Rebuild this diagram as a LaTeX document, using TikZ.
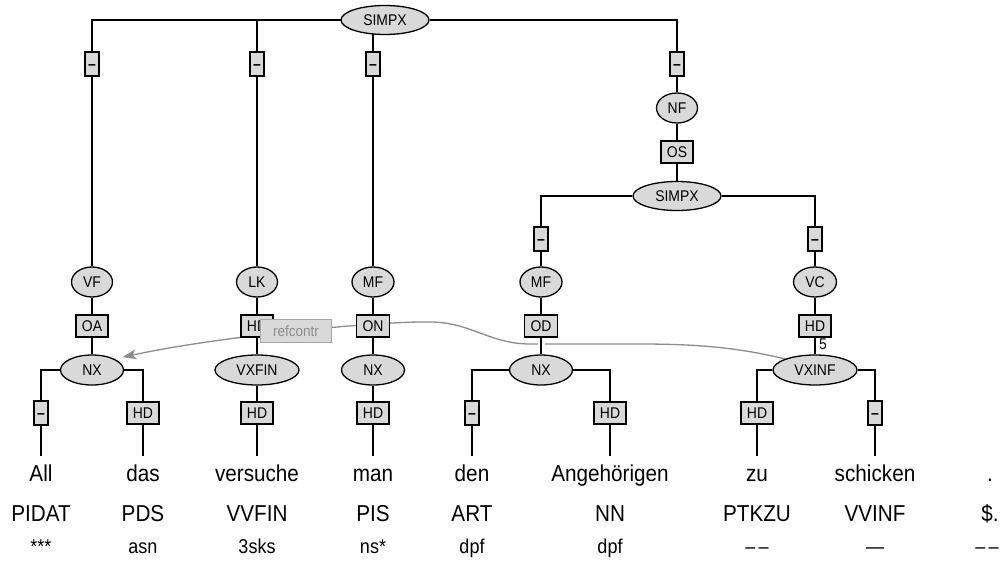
\documentclass[tikz,border=0pt]{standalone}
\usepackage{fontspec}
\setmainfont{Liberation Sans}[FakeStretch=0.9]
\usepackage{tikz}
\usetikzlibrary{
  arrows.meta,
  shapes.geometric,
  positioning,
  backgrounds
}
\definecolor{boxfill}{gray}{0.85}
\definecolor{refgray}{gray}{0.55}

\begin{document}
\begin{tikzpicture}[
      x=1pt,y=-1pt,
      category/.style={
         ellipse,
         draw=black,
         line width=1.3pt,
         fill=boxfill,
         inner sep=0pt,
         minimum width=41pt,
         minimum height=30pt,
         text height=11pt,
         text depth=0pt,
         font=\fontsize{15.5}{18}\selectfont
      },
      funcbox/.style={
         rectangle,
         draw=black,
         line width=1.3pt,
         fill=boxfill,
         inner xsep=6pt,
         inner ysep=0pt,
         minimum height=22pt,
         text height=11pt,
         text depth=0pt,
         font=\fontsize{15.5}{18}\selectfont
      },
      dashbox/.style={
         funcbox,
         inner xsep=2pt,
         minimum width=14pt,
         minimum height=24pt,
         font=\fontsize{15.5}{18}\selectfont\bfseries
      },
      word/.style={minimum height=40pt,text height=16pt,text depth=5pt,inner sep=0pt,font=\fontsize{23}{26}\selectfont},
      postag/.style={text height=16pt,text depth=5pt,inner sep=0pt,font=\fontsize{23}{26}\selectfont},
      morph/.style={text height=14pt,text depth=4pt,inner sep=0pt,font=\fontsize{20}{23}\selectfont},
      treeline/.style={line width=1.5pt},
      halo/.style={preaction={draw=white,line width=7pt}},
      secedge/.style={->,draw=refgray,line width=1.3pt,shorten >=8pt},
      reflabel/.style={
         rectangle,
         draw=gray!70,
         fill=boxfill,
         text=refgray,
         line width=1.3pt,
         minimum width=71pt,
         minimum height=23pt,
         inner sep=0pt,
         font=\fontsize{15}{18}\selectfont
      },
      hv path/.style={to path={-| (\tikztotarget)}},
      >={Stealth[length=14pt,width=10pt,inset=4pt]}
    ]
    \useasboundingbox (0,0) rectangle (1000,564);

    % syntax nodes
    \node (n15)  [category,minimum width=88pt,minimum height=29pt] at (385,20) {SIMPX};
    \node (n22)  [dashbox] at (92,64) {--};
    \node (n24)  [dashbox] at (257,64) {--};
    \node (n25)  [dashbox] at (373,64) {--};
    \node (n29)  [dashbox] at (677,64) {--};
    \node (n39)  [category] at (677,108) {NF};
    \node (n49)  [funcbox] at (677,152) {OS};
    \node (n59)  [category,minimum width=88pt,minimum height=29pt] at (677,196) {SIMPX};
    \node (n67)  [dashbox] at (541,239) {--};
    \node (n611) [dashbox] at (815,239) {--};
    \node (n72)  [category] at (92,282) {VF};
    \node (n74)  [category] at (257,282) {LK};
    \node (n75)  [category,minimum width=42pt] at (373,282) {MF};
    \node (n77)  [category,minimum width=42pt] at (541,282) {MF};
    \node (n711) [category,minimum width=43pt] at (815,282) {VC};
    \node (n82)  [funcbox] at (92,326) {OA};
    \node (n84)  [funcbox] at (257,326) {HD};
    \node (n85)  [funcbox] at (373,326) {ON};
    \node (n87)  [funcbox] at (541,326) {OD};
    \node (n811) [funcbox] at (815,326) {HD};
    \node (n92)  [category,minimum width=63pt] at (92,370) {NX};
    \node (n94)  [category,minimum width=84pt] at (257,370) {VXFIN};
    \node (n95)  [category,minimum width=63pt] at (373,370) {NX};
    \node (n97)  [category,minimum width=63pt] at (541,370) {NX};
    \node (n911) [category,minimum width=84pt] at (815,370) {VXINF};
    \node (n101) [dashbox] at (41,413) {--};
    \node (n103) [funcbox] at (143,413) {HD};
    \node (n104) [funcbox] at (257,413) {HD};
    \node (n105) [funcbox] at (373,413) {HD};
    \node (n106) [dashbox] at (472,413) {--};
    \node (n108) [funcbox] at (610,413) {HD};
    \node (n1010) [funcbox] at (757,413) {HD};
    \node (n1012) [dashbox] at (875,413) {--};

    % words
    \node (n111)  [word] at (41,476) {All};
    \node (n113)  [word] at (143,476) {das};
    \node (n114)  [word] at (257,476) {versuche};
    \node (n115)  [word] at (373,476) {man};
    \node (n116)  [word] at (472,476) {den};
    \node (n118)  [word] at (610,476) {Angehörigen};
    \node (n1110) [word] at (757,476) {zu};
    \node (n1112) [word] at (875,476) {schicken};
    \node (n1113) [word] at (990,476) {.};

    % tags
    \node (n121)  [postag] at (41,516) {PIDAT};
    \node (n123)  [postag] at (143,516) {PDS};
    \node (n124)  [postag] at (257,516) {VVFIN};
    \node (n125)  [postag] at (373,516) {PIS};
    \node (n126)  [postag] at (472,516) {ART};
    \node (n128)  [postag] at (610,516) {NN};
    \node (n1210) [postag] at (757,516) {PTKZU};
    \node (n1212) [postag] at (875,516) {VVINF};
    \node (n1213) [postag] at (990,516) {\$.};

    % morphology
    \node (n131)  [morph] at (41,548) {***};
    \node (n133)  [morph] at (143,548) {asn};
    \node (n134)  [morph] at (257,548) {3sks};
    \node (n135)  [morph] at (373,548) {ns*};
    \node (n136)  [morph] at (472,548) {dpf};
    \node (n138)  [morph] at (610,548) {dpf};
    \node (n1310) [morph] at (757,548) {–\,–};
    \node (n1312) [morph] at (875,548) {—};
    \node (n1313) [morph] at (987,548) {–\,–};

    \begin{scope}[on background layer]
      \draw[secedge] (n911.north west) .. controls (740,348) and (700,344) .. (640,344)
         -- (530,344) .. controls (490,344) and (470,322) .. (430,322)
         .. controls (380,321) and (220,336) .. (n92.north east);
      \draw[treeline] (n15) to[hv path] (n22) -- (n72) -- (n82) -- (n92);
      \draw[treeline] (n15) to[hv path] (n24) -- (n74) -- (n84) -- (n94) -- (n104) -- (n114);
      \draw[treeline] (n15) to[hv path] (n25) -- (n75) -- (n85) -- (n95) -- (n105) -- (n115);
      \draw[treeline] (n15) to[hv path] (n29) -- (n39) -- (n49) -- (n59);
      \draw[treeline] (n59) to[hv path] (n67) -- (n77) -- (n87);
      \draw[treeline,halo] (n87) -- (n97);
      \draw[treeline] (n59) to[hv path] (n611) -- (n711) -- (n811) -- (n911);
      \draw[treeline] (n92) to[hv path] (n101) -- (n111);
      \draw[treeline] (n92) to[hv path] (n103) -- (n113);
      \draw[treeline] (n97) to[hv path] (n106) -- (n116);
      \draw[treeline] (n97) to[hv path] (n108) -- (n118);
      \draw[treeline] (n911) to[hv path] (n1010) -- (n1110);
      \draw[treeline] (n911) to[hv path] (n1012) -- (n1112);
    \end{scope}

    \node (l84) [reflabel] at (296,331) {refcontr};
    \node (i811) [font=\fontsize{15.5}{18}\selectfont,inner sep=0pt] at (823,344) {5};
\end{tikzpicture}
\end{document}
